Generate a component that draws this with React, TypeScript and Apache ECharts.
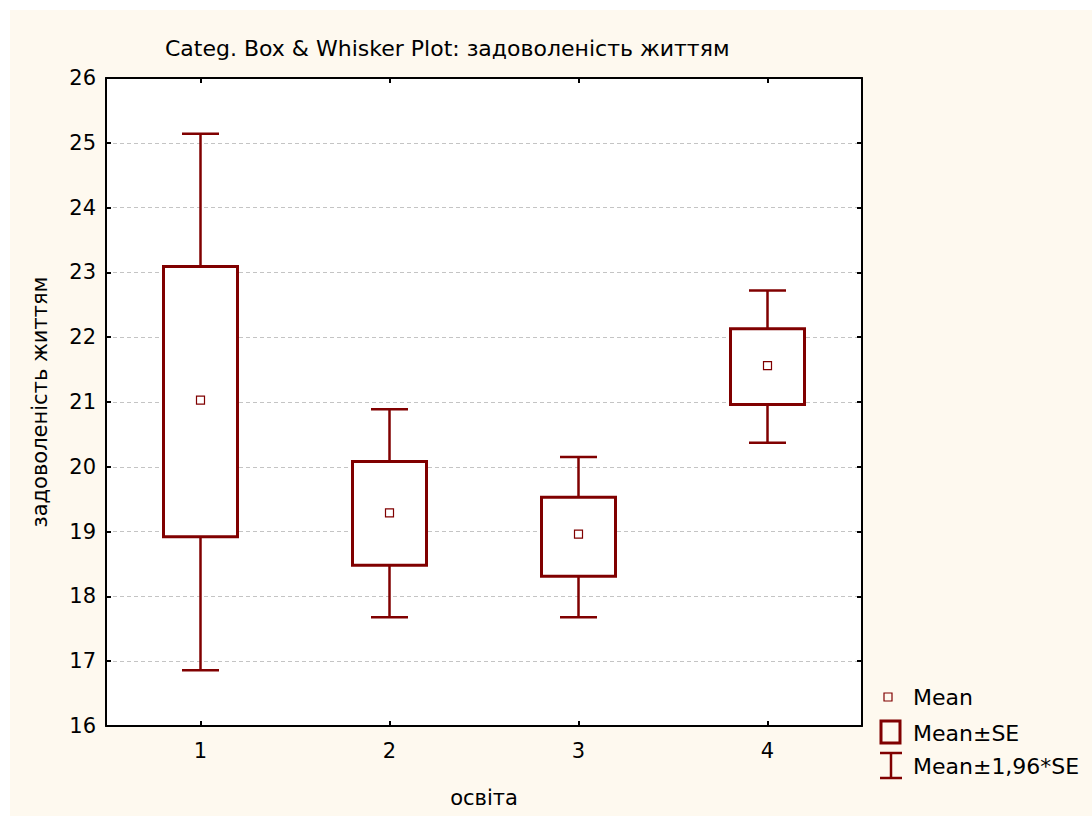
import React, { useEffect, useRef } from "react";
import * as echarts from "echarts";

const categories = ["1", "2", "3", "4"];
const means = [21.03, 19.29, 18.96, 21.56];
const seLow = [18.92, 18.48, 18.31, 20.96];
const seHigh = [23.09, 20.08, 19.53, 22.13];
const ciLow = [16.86, 17.68, 17.68, 20.37];
const ciHigh = [25.14, 20.89, 20.15, 22.72];
const yTicks = { min: 16, max: 26, interval: 1 };
const titleText = "Categ. Box & Whisker Plot: задоволеність життям";
const xName = "освіта";
const yName = "задоволеність життям";
const legendLabels = ["Mean", "Mean±SE", "Mean±1,96*SE"];

const RED = "#800000";
const FONT = "DejaVu Sans, Liberation Sans, Arial, sans-serif";
const FS = 21;
const FS_T = 22;

export default function App() {
  const ref = useRef<HTMLDivElement>(null);
  useEffect(() => {
    if (!ref.current) return;
    const chart = echarts.init(ref.current, undefined, { renderer: "svg" });
    const data = categories.map((_, i) => [i, means[i], seLow[i], seHigh[i], ciLow[i], ciHigh[i]]);
    const axisLine = { show: true, lineStyle: { color: "#000", width: 2 } };
    const tick = { show: true, inside: true, length: 5, lineStyle: { color: "#000", width: 2 } };
    chart.setOption({
      animation: false,
      backgroundColor: "#fef9ef",
      textStyle: { fontFamily: FONT },
      title: {
        text: titleText,
        left: 150,
        top: 22,
        textStyle: { fontFamily: FONT, fontSize: FS_T, fontWeight: "normal", color: "#000" },
      },
      grid: {
        left: 96,
        right: 230,
        top: 68,
        bottom: 90,
        show: true,
        backgroundColor: "#ffffff",
        borderWidth: 0,
      },
      xAxis: [
        {
          type: "category",
          data: categories,
          position: "bottom",
          boundaryGap: true,
          axisLine,
          axisTick: { ...tick, alignWithLabel: true },
          axisLabel: { color: "#000", fontSize: FS, margin: 14, fontFamily: FONT },
          splitLine: { show: false },
          name: xName,
          nameLocation: "middle",
          nameGap: 61,
          nameTextStyle: { color: "#000", fontSize: FS, fontFamily: FONT },
        },
        {
          type: "category",
          data: categories,
          position: "top",
          boundaryGap: true,
          axisLine,
          axisTick: { ...tick, alignWithLabel: true },
          axisLabel: { show: false },
          splitLine: { show: false },
        },
      ],
      yAxis: [
        {
          type: "value",
          min: yTicks.min,
          max: yTicks.max,
          interval: yTicks.interval,
          position: "left",
          axisLine,
          axisTick: tick,
          axisLabel: { color: "#000", fontSize: FS, margin: 10, fontFamily: FONT },
          splitLine: { show: true, lineStyle: { color: "#c4c4c4", width: 1, type: [4, 3] } },
          name: yName,
          nameLocation: "middle",
          nameGap: 56,
          nameTextStyle: { color: "#000", fontSize: FS, fontFamily: FONT },
        },
        {
          type: "value",
          min: yTicks.min,
          max: yTicks.max,
          interval: yTicks.interval,
          position: "right",
          axisLine,
          axisTick: tick,
          axisLabel: { show: false },
          splitLine: { show: false },
        },
      ],
      series: [
        {
          type: "custom",
          xAxisIndex: 0,
          yAxisIndex: 0,
          data,
          encode: { x: 0, y: [1, 2, 3, 4, 5] },
          renderItem: (params: any, api: any) => {
            const xi = api.value(0);
            const cx = api.coord([xi, api.value(1)])[0];
            const yMean = api.coord([xi, api.value(1)])[1];
            const ySeLo = api.coord([xi, api.value(2)])[1];
            const ySeHi = api.coord([xi, api.value(3)])[1];
            const yCiLo = api.coord([xi, api.value(4)])[1];
            const yCiHi = api.coord([xi, api.value(5)])[1];
            const bw = 74;
            const cw = 37;
            const ws = { stroke: RED, lineWidth: 2.5 };
            return {
              type: "group",
              children: [
                { type: "line", shape: { x1: cx, y1: yCiHi, x2: cx, y2: ySeHi }, style: ws },
                { type: "line", shape: { x1: cx, y1: ySeLo, x2: cx, y2: yCiLo }, style: ws },
                { type: "line", shape: { x1: cx - cw / 2, y1: yCiHi, x2: cx + cw / 2, y2: yCiHi }, style: ws },
                { type: "line", shape: { x1: cx - cw / 2, y1: yCiLo, x2: cx + cw / 2, y2: yCiLo }, style: ws },
                {
                  type: "rect",
                  shape: { x: cx - bw / 2, y: ySeHi, width: bw, height: ySeLo - ySeHi },
                  style: { fill: "#fff", stroke: RED, lineWidth: 3 },
                },
                {
                  type: "rect",
                  shape: { x: cx - 4, y: yMean - 4, width: 8, height: 8 },
                  style: { fill: "#fff", stroke: RED, lineWidth: 1.2 },
                },
              ],
            };
          },
        },
      ],
      graphic: [
        { type: "rect", shape: { x: 874, y: 683, width: 8, height: 8 }, style: { fill: "none", stroke: RED, lineWidth: 1.2 } },
        { type: "text", x: 903, y: 687, style: { text: legendLabels[0], fill: "#000", font: `${FS_T}px ${FONT}`, verticalAlign: "middle" } },
        { type: "rect", shape: { x: 871, y: 711, width: 19, height: 22 }, style: { fill: "none", stroke: RED, lineWidth: 3 } },
        { type: "text", x: 903, y: 723, style: { text: legendLabels[1], fill: "#000", font: `${FS_T}px ${FONT}`, verticalAlign: "middle" } },
        { type: "line", shape: { x1: 881, y1: 743, x2: 881, y2: 768 }, style: { stroke: RED, lineWidth: 2.5 } },
        { type: "line", shape: { x1: 870, y1: 743, x2: 892, y2: 743 }, style: { stroke: RED, lineWidth: 2.5 } },
        { type: "line", shape: { x1: 870, y1: 768, x2: 892, y2: 768 }, style: { stroke: RED, lineWidth: 2.5 } },
        { type: "text", x: 903, y: 756, style: { text: legendLabels[2], fill: "#000", font: `${FS_T}px ${FONT}`, verticalAlign: "middle" } },
      ],
    });
    return () => chart.dispose();
  }, []);
  return (
    <div style={{ position: "fixed", left: 0, top: 0, width: 1092, height: 816, background: "#ffffff" }}>
      <div ref={ref} style={{ position: "absolute", left: 10, top: 10, width: 1082, height: 806 }} />
    </div>
  );
}
